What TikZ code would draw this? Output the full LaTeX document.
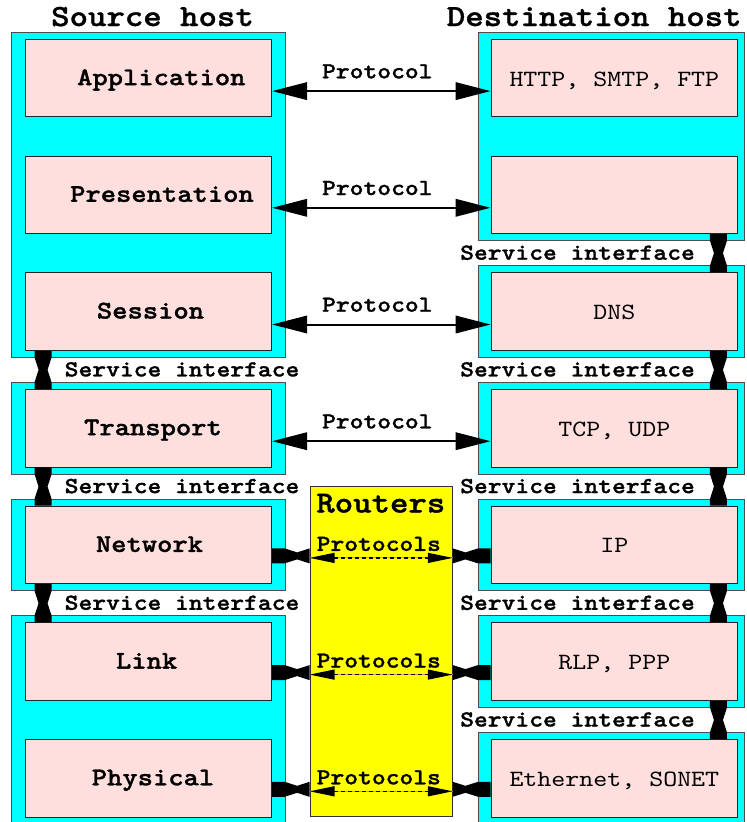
\documentclass[tikz,border=0pt]{standalone}
\usepackage{fontspec}
\newfontfamily\monobf[FakeStretch=1.1429,FakeBold=1.2]{lmmonolt10-bold.otf}
\newfontfamily\monorm[FakeStretch=1.1429]{lmmono10-regular.otf}
\usetikzlibrary{arrows.meta,calc,backgrounds}

\definecolor{layerpink}{RGB}{255,222,222}
\definecolor{hostcyan}{RGB}{0,255,255}
\definecolor{routeryellow}{RGB}{255,255,0}
\definecolor{dashunder}{RGB}{240,140,110}

\tikzset{
  layer/.style={draw=black!85, line width=0.9pt, fill=layerpink,
    minimum width=246.7pt, minimum height=77.6pt, inner sep=0pt},
  hostbox/.style={draw=black!70, line width=0.9pt, fill=hostcyan},
  routerbox/.style={draw=black!80, line width=0.9pt, fill=routeryellow,
    minimum width=142.3pt, minimum height=330.7pt, inner sep=0pt},
  layername/.style={font=\monobf\fontsize{25.5}{28}\selectfont, anchor=base, inner sep=0pt},
  protoname/.style={font=\monorm\fontsize{23.3}{26}\selectfont, anchor=base, inner sep=0pt},
  smalllabel/.style={font=\monobf\fontsize{23}{26}\selectfont, anchor=base, inner sep=0pt},
  titlelabel/.style={font=\monobf\fontsize{30.7}{34}\selectfont, anchor=base, inner sep=0pt},
  peerarrow/.style={line width=2pt,
    {Triangle[length=35pt,width=17.5pt]}-{Triangle[length=35pt,width=17.5pt]}},
  hoparrow/.style={line width=1.3pt, dash pattern=on 4pt off 3pt,
    {Triangle[length=25pt,width=10pt]}-{Triangle[length=25pt,width=10pt]}},
  hopunder/.style={line width=1pt, draw=dashunder},
  tiefill/.style={fill=black},
}

% vertical bow-tie joining the lower edge of one layer to the upper edge of the next
\newcommand\tieV[2]{%
  \fill[tiefill] let \p1=#1, \p2=#2 in
    ({\x1-8.5pt},\y1) -- ({\x1+8.5pt},\y1) -- ({\x1+8.5pt},{\y1-6.7pt})
    -- ({\x1+4.5pt},{(\y1+\y2)/2}) -- ({\x1+8.5pt},{\y2+6.7pt}) -- ({\x1+8.5pt},\y2)
    -- ({\x1-8.5pt},\y2) -- ({\x1-8.5pt},{\y2+6.7pt}) -- ({\x1-4.5pt},{(\y1+\y2)/2})
    -- ({\x1-8.5pt},{\y1-6.7pt}) -- cycle;}

% horizontal bow-tie; #3 and #4 are the straight lengths at the left and right ends
\newcommand\tieH[4]{%
  \fill[tiefill] let \p1=#1, \p2=#2 in
    (\x1,{\y1+7.5pt}) -- ({\x1+#3},{\y1+7.5pt}) -- ({(\x1+#3+\x2-#4)/2},{\y1+3.5pt})
    -- ({\x2-#4},{\y1+7.5pt}) -- (\x2,{\y1+7.5pt}) -- (\x2,{\y1-7.5pt})
    -- ({\x2-#4},{\y1-7.5pt}) -- ({(\x1+#3+\x2-#4)/2},{\y1-3.5pt})
    -- ({\x1+#3},{\y1-7.5pt}) -- (\x1,{\y1-7.5pt}) -- cycle;}

\begin{document}
\begin{tikzpicture}[x=1pt,y=-1pt]
\useasboundingbox (0,0) rectangle (747,822);

% ---------- layers of the two hosts ----------
\node[layer] (appL)   at (148.35,78.1)  {};
\node[layer] (presL)  at (148.35,194.8) {};
\node[layer] (sessL)  at (148.35,311.5) {};
\node[layer] (transL) at (148.35,428.2) {};
\node[layer] (netL)   at (148.35,544.9) {};
\node[layer] (linkL)  at (148.35,661.6) {};
\node[layer] (physL)  at (148.35,778.3) {};

\node[layer] (appR)   at (614.35,78.1)  {};
\node[layer] (presR)  at (614.35,194.8) {};
\node[layer] (sessR)  at (614.35,311.5) {};
\node[layer] (transR) at (614.35,428.2) {};
\node[layer] (netR)   at (614.35,544.9) {};
\node[layer] (linkR)  at (614.35,661.6) {};
\node[layer] (physR)  at (614.35,778.3) {};

% ---------- host frames behind the layers ----------
\begin{scope}[on background layer]
  \fill[white] (0,0) rectangle (747,822);
  \draw[hostbox] ($(appL.north west)+(-13,-6.7)$)   rectangle ($(sessL.south east)+(13,6.7)$);
  \draw[hostbox] ($(transL.north west)+(-13,-6.7)$) rectangle ($(transL.south east)+(13,6.7)$);
  \draw[hostbox] ($(netL.north west)+(-13,-6.7)$)   rectangle ($(netL.south east)+(13,6.7)$);
  \draw[hostbox] ($(linkL.north west)+(-13,-6.7)$)  rectangle ($(physL.south east)+(13,6.7)$);
  \draw[hostbox] ($(appR.north west)+(-12.3,-6.7)$)   rectangle ($(presR.south east)+(5.8,6.7)$);
  \draw[hostbox] ($(sessR.north west)+(-12.3,-6.7)$)  rectangle ($(sessR.south east)+(5.8,6.7)$);
  \draw[hostbox] ($(transR.north west)+(-12.3,-6.7)$) rectangle ($(transR.south east)+(5.8,6.7)$);
  \draw[hostbox] ($(netR.north west)+(-12.3,-6.7)$)   rectangle ($(netR.south east)+(5.8,6.7)$);
  \draw[hostbox] ($(linkR.north west)+(-12.3,-6.7)$)  rectangle ($(linkR.south east)+(5.8,6.7)$);
  \draw[hostbox] ($(physR.north west)+(-12.3,-6.7)$)  rectangle ($(physR.south east)+(5.8,6.7)$);
\end{scope}

% ---------- titles ----------
\node[titlelabel] (srcT) at (152.5,26) {Source host};
\node[titlelabel] (dstT) at (594.2,26) {Destination host};

% ---------- layer names ----------
\node[layername] (appN)   at (161.3,85.1)  {Application};
\node[layername] (presN)  at (162,201.8)   {Presentation};
\node[layername] (sessN)  at (150.5,318.5) {Session};
\node[layername] (transN) at (153,435.2)   {Transport};
\node[layername] (netN)   at (149.5,551.9) {Network};
\node[layername] (linkN)  at (146.6,668.6) {Link};
\node[layername] (physN)  at (153,785.3)   {Physical};

\node[protoname] (appP)   at (614.35,86.1)  {HTTP, SMTP, FTP};
\node[protoname] (sessP)  at (614.35,319.5) {DNS};
\node[protoname] (transP) at (614.35,436.2) {TCP, UDP};
\node[protoname] (netP)   at (614.35,552.9) {IP};
\node[protoname] (linkP)  at (614.35,669.6) {RLP, PPP};
\node[protoname] (physP)  at (614.35,786.3) {Ethernet, SONET};

% ---------- peer protocols ----------
\foreach \l in {app,pres,sess,trans}{
  \draw[peerarrow] ([yshift=-13pt]\l L.east) -- ([yshift=-13pt]\l R.west);
}
\node[smalllabel] (protoA) at (377.3,78.3)  {Protocol};
\node[smalllabel] (protoB) at (377.3,195)   {Protocol};
\node[smalllabel] (protoC) at (377.3,311.7) {Protocol};
\node[smalllabel] (protoD) at (377.3,428.4) {Protocol};

% ---------- service interfaces ----------
\tieV{([xshift=18.5pt]sessL.south west)}{([xshift=18.5pt]transL.north west)}
\tieV{([xshift=18.5pt]transL.south west)}{([xshift=18.5pt]netL.north west)}
\tieV{([xshift=18.5pt]netL.south west)}{([xshift=18.5pt]linkL.north west)}
\node[smalllabel] (siL1) at (182,376.4) {Service interface};
\node[smalllabel] (siL2) at (182,493.1) {Service interface};
\node[smalllabel] (siL3) at (182,609.8) {Service interface};

\tieV{([xshift=-19.7pt]presR.south east)}{([xshift=-19.7pt]sessR.north east)}
\tieV{([xshift=-19.7pt]sessR.south east)}{([xshift=-19.7pt]transR.north east)}
\tieV{([xshift=-19.7pt]transR.south east)}{([xshift=-19.7pt]netR.north east)}
\tieV{([xshift=-19.7pt]netR.south east)}{([xshift=-19.7pt]linkR.north east)}
\tieV{([xshift=-19.7pt]linkR.south east)}{([xshift=-19.7pt]physR.north east)}
\node[smalllabel] (siR1) at (577.5,259.7) {Service interface};
\node[smalllabel] (siR2) at (577.5,376.4) {Service interface};
\node[smalllabel] (siR3) at (577.5,493.1) {Service interface};
\node[smalllabel] (siR4) at (577.5,609.8) {Service interface};
\node[smalllabel] (siR5) at (577.5,726.5) {Service interface};

% ---------- routers ----------
\node[routerbox] (routers) at (381.15,651.35) {};
\node[titlelabel] (routT) at (380.8,512.5) {Routers};

\foreach \l in {net,link,phys}{
  \coordinate (\l Tie) at ([yshift=-11pt]\l L.east);
  \coordinate (\l Hop) at ([yshift=-13pt]\l L.east);
  \tieH{(\l Tie)}{(routers.west |- \l Tie)}{12.5pt}{0pt}
  \tieH{(routers.east |- \l Tie)}{(\l R.west |- \l Tie)}{0pt}{12.5pt}
  \draw[hopunder] (routers.west |- \l Hop) -- (routers.east |- \l Hop);
  \draw[hoparrow] (routers.west |- \l Hop) -- (routers.east |- \l Hop);
}
\node[smalllabel] (hopN) at (378.8,550.9) {Protocols};
\node[smalllabel] (hopL) at (378.8,667.6) {Protocols};
\node[smalllabel] (hopP) at (378.8,784.3) {Protocols};

\end{tikzpicture}
\end{document}
